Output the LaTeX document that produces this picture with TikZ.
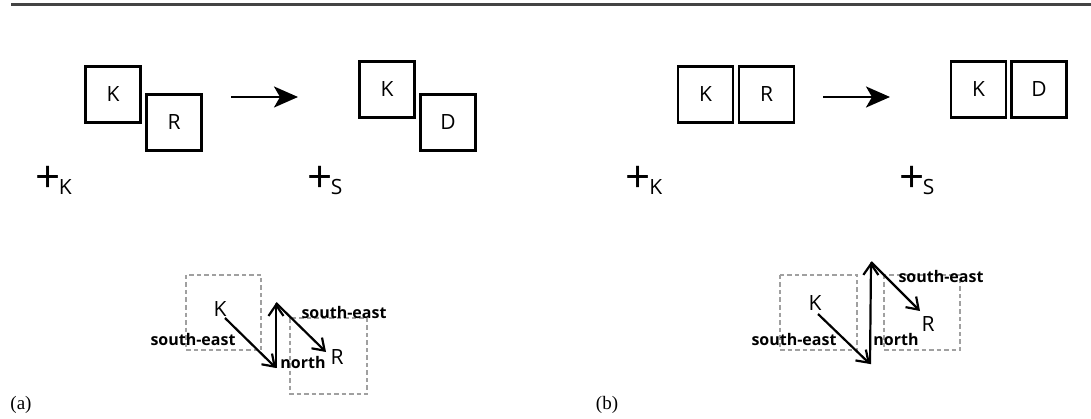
\documentclass[tikz,border=0pt]{standalone}
\usepackage{fontspec}
\setmainfont{Open Sans}
\newfontfamily\serifl{Liberation Serif}
\usetikzlibrary{arrows.meta}
\definecolor{rulegray}{HTML}{444444}
\definecolor{dashgray}{HTML}{A0A0A0}
\newcommand{\plussub}[1]{{\fontsize{44}{46}\selectfont +}\hspace{-1.5pt}\raisebox{-2pt}{\fontsize{21}{23}\selectfont #1}}
\tikzset{
  sq/.style={draw, line width=2.3pt, minimum width=55pt, minimum height=56pt, inner sep=0pt, font=\fontsize{21}{23}\selectfont},
  bigarrow/.style={line width=2.4pt, -{Stealth[length=24pt,width=21pt,inset=6pt]}},
  plusmark/.style={inner sep=0pt, anchor=base west},
  dashbox/.style={draw=dashgray, line width=1.7pt, dash pattern=on 4.5pt off 3pt},
  vec/.style={line width=2.2pt, -{Straight Barb[length=11pt,width=15pt,line width=2.2pt]}},
  ptl/.style={inner sep=0pt, font=\fontsize{21}{23}\selectfont},
  dirl/.style={inner sep=0pt, font=\fontsize{16}{18}\selectfont\bfseries},
  panell/.style={inner sep=0pt, font=\serifl\fontsize{19}{21}\selectfont},
}
\begin{document}
\begin{tikzpicture}[x=1pt,y=-1pt]
\useasboundingbox (0,0) rectangle (1091,419);
% top rule
\coordinate (rl) at (11,5);
\coordinate (rr) at (1091,5);
\draw[rulegray, line width=3pt] (rl) -- (rr);

% ---------- panel (a) ----------
\node[sq] (aK1) at (113,94.5) {K};
\node[sq] (aR1) at (174,122.5) {R};
\node[sq] (aK2) at (387,89.5) {K};
\node[sq] (aD)  at (448,122.5) {D};
\coordinate (aA1) at (231,97);
\coordinate (aA2) at (298,97);
\draw[bigarrow] (aA1) -- (aA2);
\node[plusmark] (aPK) at (35,193) {\plussub{K}};
\node[plusmark] (aPS) at (307,193) {\plussub{S}};

\draw[dashbox] (186,275) rectangle (261,350);
\draw[dashbox] (290,318) rectangle (367,394);
\node[ptl] (aK) at (220,309) {K};
\node[ptl] (aR) at (337,357) {R};
\coordinate (aS) at (225,318);
\coordinate (aB) at (276,368);
\coordinate (aT) at (276,303);
\coordinate (aE) at (326,352);
\draw[vec] (aS) -- (aB);
\draw[vec] (aB) -- (aT);
\draw[vec] (aT) -- (aE);
\node[dirl] (aL1) at (193,339) {south-east};
\node[dirl] (aL2) at (303,362) {north};
\node[dirl] (aL3) at (344,313) {south-east};
\node[panell] (alab) at (21,405) {(a)};

% ---------- panel (b) ----------
\node[sq] (bK1) at (705.5,94.5) {K};
\node[sq] (bR1) at (766.5,94.5) {R};
\node[sq] (bK2) at (978.5,89.5) {K};
\node[sq] (bD)  at (1039,89.5) {D};
\coordinate (bA1) at (823,97);
\coordinate (bA2) at (890,97);
\draw[bigarrow] (bA1) -- (bA2);
\node[plusmark] (bPK) at (625.5,193) {\plussub{K}};
\node[plusmark] (bPS) at (899,193) {\plussub{S}};

\draw[dashbox] (780,275) rectangle (857,350);
\draw[dashbox] (884,275) rectangle (960,350);
\node[ptl] (bK) at (815,303) {K};
\node[ptl] (bR) at (928,324) {R};
\coordinate (bS) at (818,314);
\coordinate (bB) at (870,364);
\coordinate (bT) at (871,262);
\coordinate (bE) at (920,311);
\draw[vec] (bS) -- (bB);
\draw[vec] (bB) -- (bT);
\draw[vec] (bT) -- (bE);
\node[dirl] (bL1) at (794,339) {south-east};
\node[dirl] (bL2) at (896,339) {north};
\node[dirl] (bL3) at (941,277) {south-east};
\node[panell] (blab) at (607,405) {(b)};
\end{tikzpicture}
\end{document}
